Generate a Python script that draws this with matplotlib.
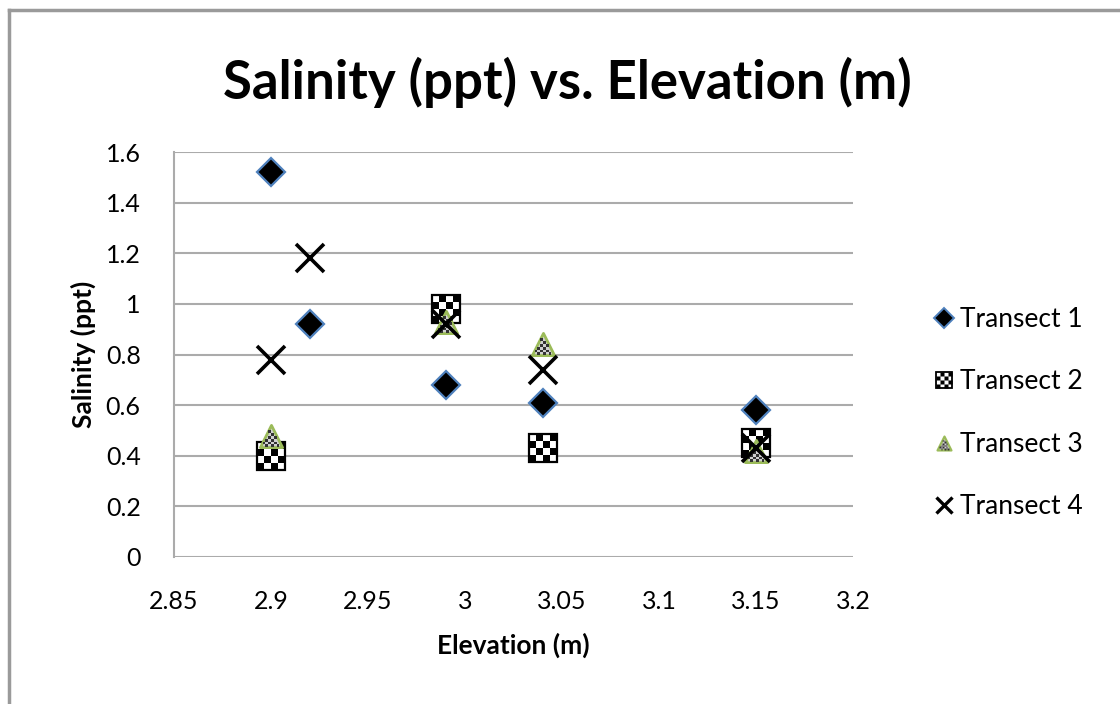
import numpy as np
import matplotlib
matplotlib.use("Agg")
import matplotlib.pyplot as plt
from matplotlib.path import Path
from matplotlib.lines import Line2D

plt.rcParams['font.family'] = ['Lato', 'DejaVu Sans']

# ---- data ----
series_names = ["Transect 1", "Transect 2", "Transect 3", "Transect 4"]
t1_x = [2.90, 2.92, 2.99, 3.04, 3.15]
t1_y = [1.52, 0.92, 0.68, 0.61, 0.58]
t2_x = [2.90, 2.99, 3.04, 3.15]
t2_y = [0.40, 0.98, 0.43, 0.45]
t3_x = [2.90, 2.99, 3.04, 3.15]
t3_y = [0.48, 0.93, 0.84, 0.42]
t4_x = [2.90, 2.92, 2.99, 3.04, 3.15]
t4_y = [0.78, 1.18, 0.92, 0.74, 0.43]
x_ticks = [2.85, 2.9, 2.95, 3.0, 3.05, 3.1, 3.15, 3.2]
x_tick_labels = ["2.85", "2.9", "2.95", "3", "3.05", "3.1", "3.15", "3.2"]
y_ticks = [0, 0.2, 0.4, 0.6, 0.8, 1.0, 1.2, 1.4, 1.6]
y_tick_labels = ["0", "0.2", "0.4", "0.6", "0.8", "1", "1.2", "1.4", "1.6"]


def checker_path(n, shape="square"):
    verts, codes = [], []
    s = 2.0 / n
    for i in range(n):
        for j in range(n):
            if (i + j) % 2 == 0:
                x0, y0 = -1 + i * s, -1 + j * s
                sq = [(x0, y0), (x0 + s, y0), (x0 + s, y0 + s), (x0, y0 + s), (x0, y0)]
                if shape == "triangle":
                    cx, cy = x0 + s / 2, y0 + s / 2
                    if abs(cx) > (1 - (cy + 1) / 2) - s * 0.3:
                        continue
                verts += sq
                codes += [Path.MOVETO, Path.LINETO, Path.LINETO, Path.LINETO, Path.CLOSEPOLY]
    return Path(verts, codes)


checker_sq = checker_path(4)
checker_tri = checker_path(8, "triangle")
tri_path = Path([(-1, -1), (1, -1), (0, 1), (-1, -1)],
                [Path.MOVETO, Path.LINETO, Path.LINETO, Path.CLOSEPOLY])

fig = plt.figure(figsize=(11.2, 7.04), dpi=100)
ax = fig.add_axes([174 / 1120, 1 - 557 / 704, (853 - 174) / 1120, (557 - 152) / 704])

# frame around chart
fig.add_artist(Line2D([9 / 1120, 9 / 1120], [0, 1 - 10 / 704], transform=fig.transFigure,
                      color='#9a9a9a', lw=2.5))
fig.add_artist(Line2D([9 / 1120, 1], [1 - 10 / 704, 1 - 10 / 704], transform=fig.transFigure,
                      color='#9a9a9a', lw=2.5))

# Transect 1: diamonds
ax.plot(t1_x, t1_y, linestyle='none', marker='D', ms=14, mfc='black',
        mec='#4f81bd', mew=1.6, zorder=3)
# Transect 2: checker squares
ax.plot(t2_x, t2_y, linestyle='none', marker='s', ms=20, mfc='white',
        mec='black', mew=1.6, zorder=3)
ax.plot(t2_x, t2_y, linestyle='none', marker=checker_sq, ms=20, mfc='black',
        mec='none', mew=0, zorder=3)
# Transect 3: triangles
ax.plot(t3_x, t3_y, linestyle='none', marker=tri_path, ms=16, mfc='#d0d0d0',
        mec='#9bbb59', mew=2.0, zorder=4)
ax.plot(t3_x, t3_y, linestyle='none', marker=checker_tri, ms=16, mfc='#333333',
        mec='none', mew=0, zorder=4)
# Transect 4: crosses
ax.plot(t4_x, t4_y, linestyle='none', marker='x', ms=20, mec='black',
        mew=2.6, zorder=5)

ax.set_xlim(2.85, 3.2)
ax.set_ylim(0, 1.6)
ax.set_xticks(x_ticks)
ax.set_xticklabels(x_tick_labels)
ax.set_yticks(y_ticks)
ax.set_yticklabels(y_tick_labels)
ax.tick_params(length=0, labelsize=18)
ax.tick_params(axis='x', pad=24)
ax.tick_params(axis='y', pad=24)
ax.grid(axis='y', color='#ababab', lw=1.5)
ax.set_axisbelow(True)
for s in ['top', 'right', 'bottom']:
    ax.spines[s].set_visible(False)
ax.spines['left'].set_color('#ababab')
ax.spines['left'].set_linewidth(1.5)

ax.set_xlabel("Elevation (m)", fontsize=19, fontweight='bold', labelpad=14)
ax.set_ylabel("Salinity (ppt)", fontsize=19, fontweight='bold', labelpad=7)
fig.text(567 / 1120, 1 - 82 / 704, "Salinity (ppt) vs. Elevation (m)", fontsize=38,
         fontweight='bold', ha='center', va='center')

# legend
h1 = Line2D([], [], linestyle='none', marker='D', ms=10, mfc='black', mec='#4f81bd', mew=1.4)
h2a = Line2D([], [], linestyle='none', marker='s', ms=12, mfc='white', mec='black', mew=1.3)
h2b = Line2D([], [], linestyle='none', marker=checker_sq, ms=12, mfc='black', mec='none')
h3a = Line2D([], [], linestyle='none', marker=tri_path, ms=10, mfc='#d0d0d0', mec='#9bbb59', mew=1.6)
h3b = Line2D([], [], linestyle='none', marker=checker_tri, ms=10, mfc='#333333', mec='none')
h4 = Line2D([], [], linestyle='none', marker='x', ms=12, mec='black', mew=2.4)
fig.legend([h1, (h2a, h2b), (h3a, h3b), h4], series_names,
           loc='center left', bbox_to_anchor=(920 / 1120, 1 - 413 / 704),
           frameon=False, fontsize=19, handlelength=0.8, handletextpad=0.2,
           labelspacing=1.42, borderpad=0)

fig.savefig("out.png", dpi=100)
